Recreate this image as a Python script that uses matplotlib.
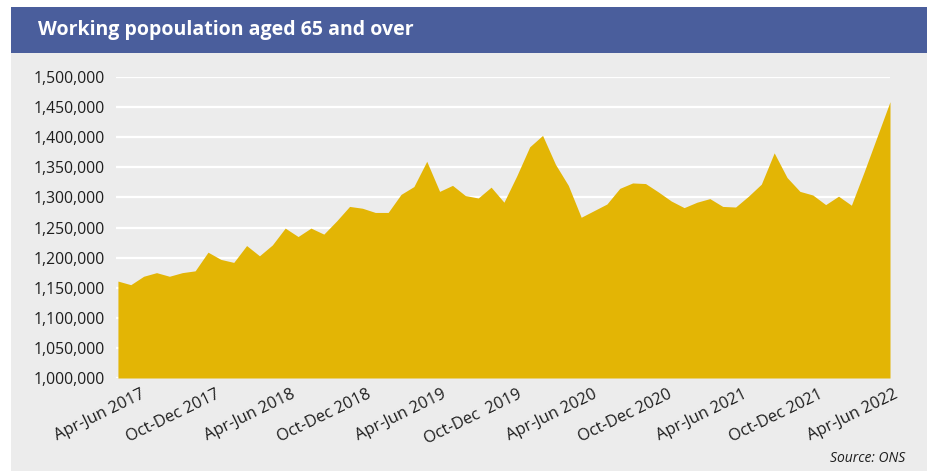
import numpy as np
import matplotlib
matplotlib.use('Agg')
import matplotlib.pyplot as plt
from matplotlib.patches import Rectangle
from matplotlib.ticker import FuncFormatter
import matplotlib.transforms as mtransforms

plt.rcParams['font.family'] = ['Open Sans', 'DejaVu Sans']

# three-month rolling periods, Apr-Jun 2017 .. Apr-Jun 2022 (61 periods)
workers = [
    1161000, 1155000, 1169000, 1175000, 1169000, 1175000, 1178000, 1209000,
    1197000, 1192000, 1220000, 1203000, 1221000, 1249000, 1235000, 1249000,
    1239000, 1261000, 1285000, 1282000, 1275000, 1275000, 1305000, 1318000,
    1360000, 1310000, 1320000, 1303000, 1299000, 1317000, 1292000, 1336000,
    1384000, 1403000, 1355000, 1320000, 1267000, 1278000, 1289000, 1315000,
    1324000, 1323000, 1309000, 1294000, 1283000, 1292000, 1298000, 1285000,
    1284000, 1302000, 1322000, 1374000, 1333000, 1310000, 1304000, 1288000,
    1302000, 1287000, 1343000, 1401000, 1459000,
]
tick_labels = ['Apr-Jun 2017', 'Oct-Dec 2017', 'Apr-Jun 2018', 'Oct-Dec 2018',
               'Apr-Jun 2019', 'Oct-Dec  2019', 'Apr-Jun 2020', 'Oct-Dec 2020',
               'Apr-Jun 2021', 'Oct-Dec 2021', 'Apr-Jun 2022']

W, H = 928, 471
fig = plt.figure(figsize=(W / 100, H / 100), dpi=100)
fig.patch.set_facecolor('white')

# grey panel and blue title bar
fig.patches.append(Rectangle((11 / W, 0), 1 - 11 / W, 1 - 53 / H,
                             transform=fig.transFigure, facecolor='#ececec',
                             edgecolor='none', zorder=-10))
fig.patches.append(Rectangle((11 / W, 1 - 53 / H), 1 - 11 / W, 46 / H,
                             transform=fig.transFigure, facecolor='#4a5e9c',
                             edgecolor='none', zorder=-10))
fig.text(38 / W, 1 - 30 / H, 'Working popoulation aged 65 and over',
         color='white', fontsize=14, fontweight='bold', va='center', ha='left')

ax = fig.add_axes([116 / W, 1 - 378 / H, (890 - 116) / W, (378 - 77) / H])
ax.set_facecolor('none')

x = np.arange(len(workers))
ax.fill_between(x, 1000000, workers, color='#e3b505', linewidth=0, zorder=2)

ax.set_xlim(-0.15, len(workers) - 1)
ax.set_ylim(1000000, 1500000)
ax.set_yticks(np.arange(1000000, 1500001, 50000))
ax.yaxis.set_major_formatter(FuncFormatter(lambda v, p: f'{int(v):,}'))
ax.grid(axis='y', color='white', linewidth=1.6, zorder=1)
ax.set_axisbelow(True)
for s in ax.spines.values():
    s.set_visible(False)
ax.tick_params(length=0, labelsize=11.3, colors='#1e1e1e')
ax.tick_params(axis='y', pad=8)

ax.set_xticks(x[::6])
ax.set_xticklabels(tick_labels, rotation=26, ha='right', va='center',
                   rotation_mode='anchor', fontsize=11.8)
# labels in the original sit slightly right of their ticks, drifting left
for i, lab in enumerate(ax.get_xticklabels()):
    dx = (26 - 1.9 * i) / 100
    off = mtransforms.ScaledTranslation(dx, -11 / 100, fig.dpi_scale_trans)
    lab.set_transform(lab.get_transform() + off)

fig.text(905 / W, 1 - 458 / H, 'Source: ONS', fontsize=10, style='italic',
         ha='right', va='center', color='#1e1e1e')

fig.savefig('out.png', dpi=100)
